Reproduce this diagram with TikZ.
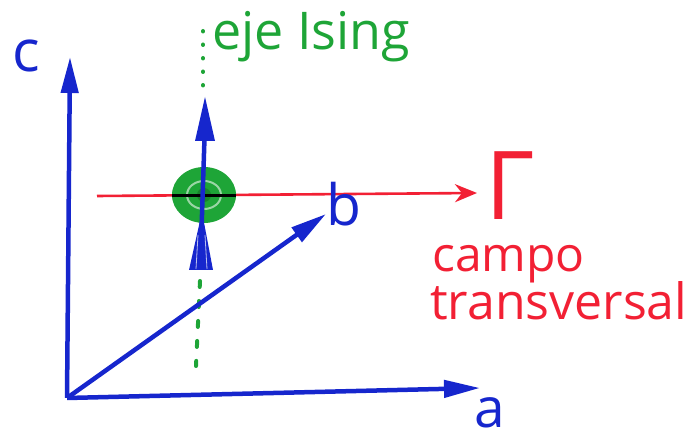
\documentclass[tikz,border=0pt]{standalone}
\usepackage{fontspec}
\setmainfont{Open Sans}
\usetikzlibrary{arrows.meta}
\definecolor{pblue}{RGB}{22,38,205}
\definecolor{pgreen}{RGB}{30,165,55}
\definecolor{pred}{RGB}{242,32,52}
\newcommand{\fsz}[1]{\fontsize{#1}{#1}\selectfont}
\begin{document}
\begin{tikzpicture}[x=1pt,y=-1pt,
  axis/.style={pblue, line width=4.5pt, -{Triangle[length=36pt,width=17pt]}},
  field/.style={pred, line width=2.6pt, -{Stealth[length=22pt,width=18pt,inset=7pt]}},
  isingdots/.style={pgreen, line width=4pt, line cap=round, dash pattern=on 0.5pt off 13pt},
  isingdash/.style={pgreen, line width=4pt, line cap=round, dash pattern=on 6pt off 14pt},
  bluelab/.style={pblue, inner sep=0pt, anchor=base},
  greenlab/.style={pgreen, inner sep=0pt, anchor=base west},
  redlab/.style={pred, inner sep=0pt, anchor=base west}]
\useasboundingbox (0,0) rectangle (696,443);

\coordinate (O) at (67,398);
\coordinate (Ctip) at (70,57);
\coordinate (Atip) at (480,388);
\coordinate (Btip) at (326,214);
\coordinate (Rstart) at (97,196);
\coordinate (Rtip) at (477,193);
\coordinate (Dtop1) at (203,31);
\coordinate (Dtop2) at (203,88);
\coordinate (Dbot1) at (200,281);
\coordinate (Dbot2) at (196,366);
\coordinate (S) at (204,195);

% Ising axis (dotted)
\draw[isingdots] (Dtop1) -- (Dtop2);
\draw[isingdash] (Dbot1) -- (Dbot2);

% crystal axes
\draw[axis] (O) -- (Ctip);
\draw[axis] (O) -- (Atip);
\draw[axis] (O) -- (Btip);

% transverse field
\draw[field] (Rstart) -- (Rtip);

% spin precession circle
\fill[pgreen] (S) ellipse [x radius=32pt, y radius=28pt];
\draw[pgreen!45!white, line width=2pt] (S) ellipse [x radius=17pt, y radius=14pt];
\fill[pgreen!80!black] (S) circle (7pt);
\draw[black, line width=3pt] (172,196) -- (236,196);

% spin arrow
\fill[pblue] (205,97) -- (215,141) -- (195,141) -- cycle;
\draw[pblue, line width=4.5pt] (204.5,138) -- (201.5,230);
\fill[pblue] (202,212) -- (213,270) -- (189,270) -- cycle;
\draw[white!70!pblue, line width=0.8pt] (198,235) -- (196,269);
\draw[white!70!pblue, line width=0.8pt] (205,235) -- (207,269);

% labels
\node[bluelab, font=\fsz{58}] (lc) at (26,72) {c};
\node[bluelab, font=\fsz{55}] (la) at (490,428) {a};
\node[bluelab, font=\fsz{57}] (lb) at (344,226) {b};
\node[greenlab, font=\fsz{52}] (eje) at (212,50) {eje Ising};
\node[redlab, font=\fsz{95}] (gam) at (485,220) {Γ};
\node[redlab, font=\fsz{48}] (campo) at (432,272) {campo};
\node[redlab, font=\fsz{50}] (transv) at (430,320) {transversal};
\end{tikzpicture}
\end{document}
